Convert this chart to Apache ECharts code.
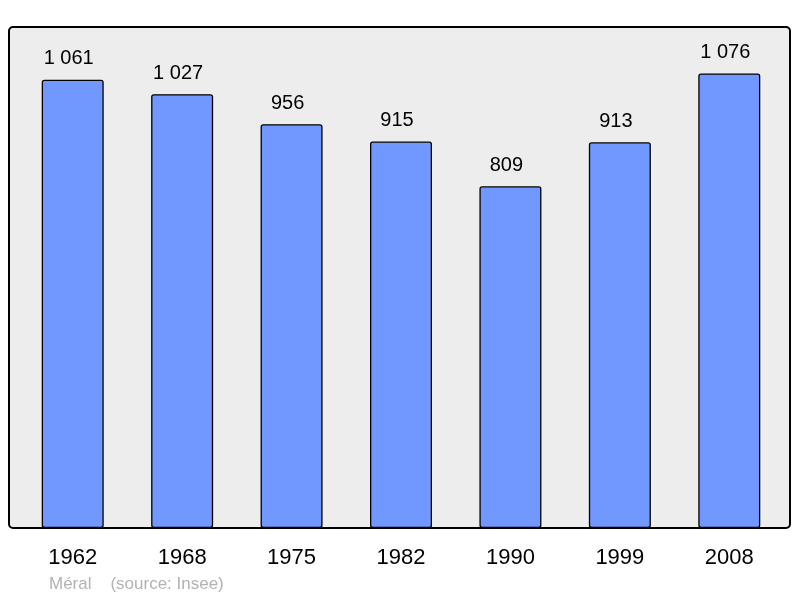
<!DOCTYPE html>
<html>
<head>
    <meta charset="utf-8">
    <title>Méral</title>
    <script src="https://cdn.jsdelivr.net/npm/echarts@6/dist/echarts.min.js"></script>
    <style>
        html, body { margin: 0; padding: 0; background: #fff; }
    </style>
</head>
<body>
    <div id="chart" style="width: 800px;height: 598px;"></div>
<script>
    var years = ['1962', '1968', '1975', '1982', '1990', '1999', '2008'];
    var population = [1061, 1027, 956, 915, 809, 913, 1076];

    function fmt(v) {
        return String(v).replace(/\B(?=(\d{3})+(?!\d))/g, ' ');
    }

    var chart = echarts.init(document.getElementById('chart'));
    var option = {
        animation: false,
        textStyle: { fontFamily: 'Liberation Sans, Arial, sans-serif' },
        graphic: [
            {
                type: 'rect',
                z: -10,
                shape: { x: 9, y: 27, width: 781, height: 501, r: 4 },
                style: { fill: '#ededed', stroke: '#000', lineWidth: 2 }
            },
            {
                type: 'text',
                left: 49,
                top: 576,
                style: {
                    text: 'Méral    (source: Insee)',
                    fill: '#b3b3b3',
                    font: '17px Liberation Sans, Arial, sans-serif'
                }
            }
        ],
        grid: { left: 18, right: 16, top: 27, bottom: 70 },
        xAxis: {
            type: 'category',
            data: years,
            axisLine: { show: false },
            axisTick: { show: false },
            axisLabel: { color: '#000', fontSize: 22, margin: 19 }
        },
        yAxis: {
            type: 'value',
            min: 0,
            max: 1186,
            show: false,
            splitLine: { show: false }
        },
        series: [{
            type: 'bar',
            data: population,
            barWidth: 62,
            itemStyle: {
                color: '#7098ff',
                borderColor: '#000',
                borderWidth: 1.3,
                borderRadius: 2
            },
            label: {
                show: true,
                position: 'top',
                distance: 11,
                offset: [-4, 0],
                color: '#000',
                fontSize: 20,
                formatter: function (p) { return fmt(p.value); }
            }
        }]
    };
    chart.setOption(option);
</script>
</body>
</html>
